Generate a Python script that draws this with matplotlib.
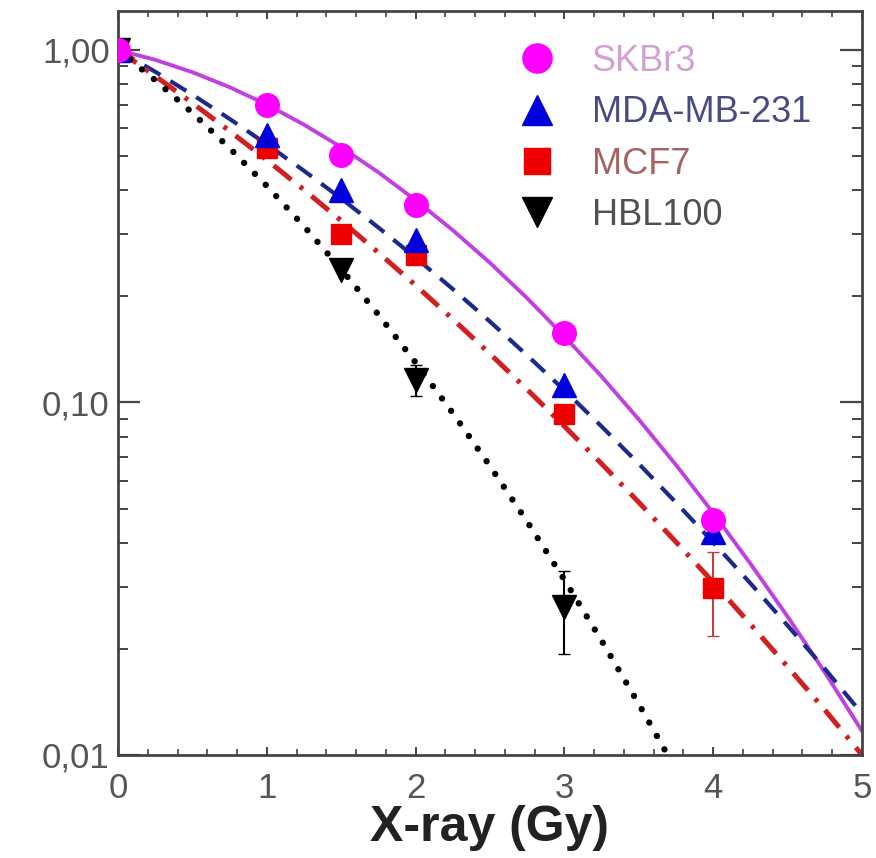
import matplotlib
matplotlib.use("Agg")
import matplotlib.pyplot as plt
from matplotlib.lines import Line2D
from matplotlib.ticker import FixedLocator, NullFormatter, MultipleLocator, LogLocator

plt.rcParams['font.family'] = ['Liberation Sans', 'DejaVu Sans']

# ---- measured data points ----
labels = ["SKBr3", "MDA-MB-231", "MCF7", "HBL100"]

skbr3_dose = [0, 1, 1.5, 2, 3, 4]
skbr3_sf = [1.0, 0.698, 0.504, 0.363, 0.157, 0.0464]

mda_dose = [0, 1, 1.5, 2, 3, 4]
mda_sf = [1.0, 0.574, 0.400, 0.289, 0.112, 0.043]

mcf7_dose = [0, 1, 1.5, 2, 3, 4]
mcf7_sf = [1.0, 0.527, 0.300, 0.262, 0.093, 0.0297]
mcf7_err = [0, 0, 0, 0, 0, 0.008]

hbl_dose = [0, 1.5, 2, 3]
hbl_sf = [1.0, 0.238, 0.116, 0.0263]
hbl_err = [0, 0, 0.012, 0.007]

# ---- fitted curves ----
fit_dose = [0, 0.25, 0.5, 0.75, 1, 1.25, 1.5, 1.75, 2, 2.25, 2.5, 2.75,
            3, 3.25, 3.5, 3.75, 4, 4.25, 4.5, 4.75, 5]
skbr3_fit = [1.0, 0.9377, 0.865, 0.7844, 0.700, 0.6140, 0.530, 0.4497, 0.375, 0.3081,
             0.249, 0.1976, 0.154, 0.1185, 0.0895, 0.0665, 0.0486, 0.0349, 0.0247,
             0.01716, 0.0117]
mda_fit = [1.0, 0.8675, 0.747, 0.6376, 0.540, 0.4542, 0.379, 0.3136, 0.2575, 0.2098,
           0.1696, 0.1360, 0.1083, 0.0855, 0.0670, 0.0520, 0.0401, 0.0307, 0.0233,
           0.01757, 0.0131]
mcf7_fit = [1.0, 0.8435, 0.707, 0.5890, 0.4875, 0.4010, 0.328, 0.2662, 0.215, 0.1724,
            0.1374, 0.1088, 0.0856, 0.0670, 0.0521, 0.0402, 0.0309, 0.0235, 0.0178,
            0.01343, 0.0100]
hbl_fit_dose = [0, 0.25, 0.5, 0.75, 1, 1.25, 1.5, 1.75, 2, 2.25, 2.5, 2.75,
                3, 3.25, 3.5, 3.75]
hbl_fit = [1.0, 0.8211, 0.663, 0.5267, 0.4115, 0.3161, 0.2389, 0.1775, 0.1298, 0.0933,
           0.0660, 0.0459, 0.0314, 0.0211, 0.01395, 0.00908]

yticks = [0.01, 0.1, 1.0]
ytick_labels = ["0,01", "0,10", "1,00"]
xticks = [0, 1, 2, 3, 4, 5]

fig = plt.figure(figsize=(8.76, 8.58), dpi=100)
ax = fig.add_axes([118/876, 1-755/858, (862-118)/876, (755-11)/858])
ax.set_yscale('log')
ax.set_xlim(0, 5)
ax.set_ylim(0.01, 1.29)

c_sk = '#FF00FF'
c_md = '#0000DD'
c_mc = '#EE0000'
c_hb = '#000000'

# curves
ax.plot(fit_dose, skbr3_fit, '-', color='#C040E0', lw=2.8, zorder=2)
ax.plot(fit_dose, mda_fit, '--', color='#1C2A8C', lw=3.0, dashes=(4.5, 2.8), zorder=2)
ax.plot(fit_dose, mcf7_fit, '-.', color='#D02020', lw=3.6, dashes=(4.5, 2.2, 0.8, 2.2), zorder=2)
ax.plot(hbl_fit_dose, hbl_fit, ':', color='black', lw=4.6, dashes=(0.01, 2.4),
        dash_capstyle='round', zorder=2)

# points
ax.errorbar(skbr3_dose, skbr3_sf, fmt='o', color=c_sk, ms=17, mec=c_sk, zorder=5)
ax.errorbar(mda_dose, mda_sf, fmt='^', color=c_md, ms=17, mec=c_md, zorder=4)
ax.errorbar(mcf7_dose, mcf7_sf, yerr=mcf7_err, fmt='s', color=c_mc, ms=15, mec=c_mc,
            ecolor='#C04040', elinewidth=1.5, capsize=4, zorder=3)
ax.errorbar(hbl_dose, hbl_sf, yerr=hbl_err, fmt='v', color=c_hb, ms=17, mec=c_hb,
            ecolor='black', elinewidth=1.5, capsize=4, zorder=3)

# axes styling
for s in ax.spines.values():
    s.set_color('#444444')
    s.set_linewidth(2.0)

ax.yaxis.set_major_locator(FixedLocator(yticks))
ax.set_yticklabels(ytick_labels)
ax.yaxis.set_minor_locator(LogLocator(base=10, subs=range(2, 10)))
ax.yaxis.set_minor_formatter(NullFormatter())
ax.xaxis.set_major_locator(FixedLocator(xticks))
ax.xaxis.set_minor_locator(MultipleLocator(0.2))
ax.set_xticklabels([str(v) for v in xticks])

ax.tick_params(axis='y', which='major', direction='in', left=True, right=True,
               length=16, width=1.6, color='#444444', labelsize=25, labelcolor='#555555', pad=6)
ax.tick_params(axis='y', which='minor', direction='in', left=True, right=True,
               length=7, width=1.4, color='#444444')
ax.tick_params(axis='x', which='major', direction='in', bottom=True, top=True,
               length=6, width=1.4, color='#444444', labelsize=25, labelcolor='#555555', pad=12)
ax.tick_params(axis='x', which='minor', direction='in', bottom=True, top=True,
               length=4, width=1.2, color='#444444')

ax.set_xlabel("X-ray (Gy)", fontsize=36, fontweight='bold', color='#222222', labelpad=0)

# legend
handles = [
    Line2D([], [], marker='o', ls='none', color=c_sk, ms=21),
    Line2D([], [], marker='^', ls='none', color=c_md, ms=21),
    Line2D([], [], marker='s', ls='none', color=c_mc, ms=19),
    Line2D([], [], marker='v', ls='none', color=c_hb, ms=21),
]
leg = ax.legend(handles, labels, loc='upper left', bbox_to_anchor=(0.52, 0.975),
                frameon=False, fontsize=26, handlelength=1.0, handletextpad=1.0,
                labelspacing=0.45, borderaxespad=0)
text_colors = ['#D4A0D4', '#4A4A82', '#A86060', '#505050']
for t, c in zip(leg.get_texts(), text_colors):
    t.set_color(c)

fig.savefig("out.png", dpi=100)
